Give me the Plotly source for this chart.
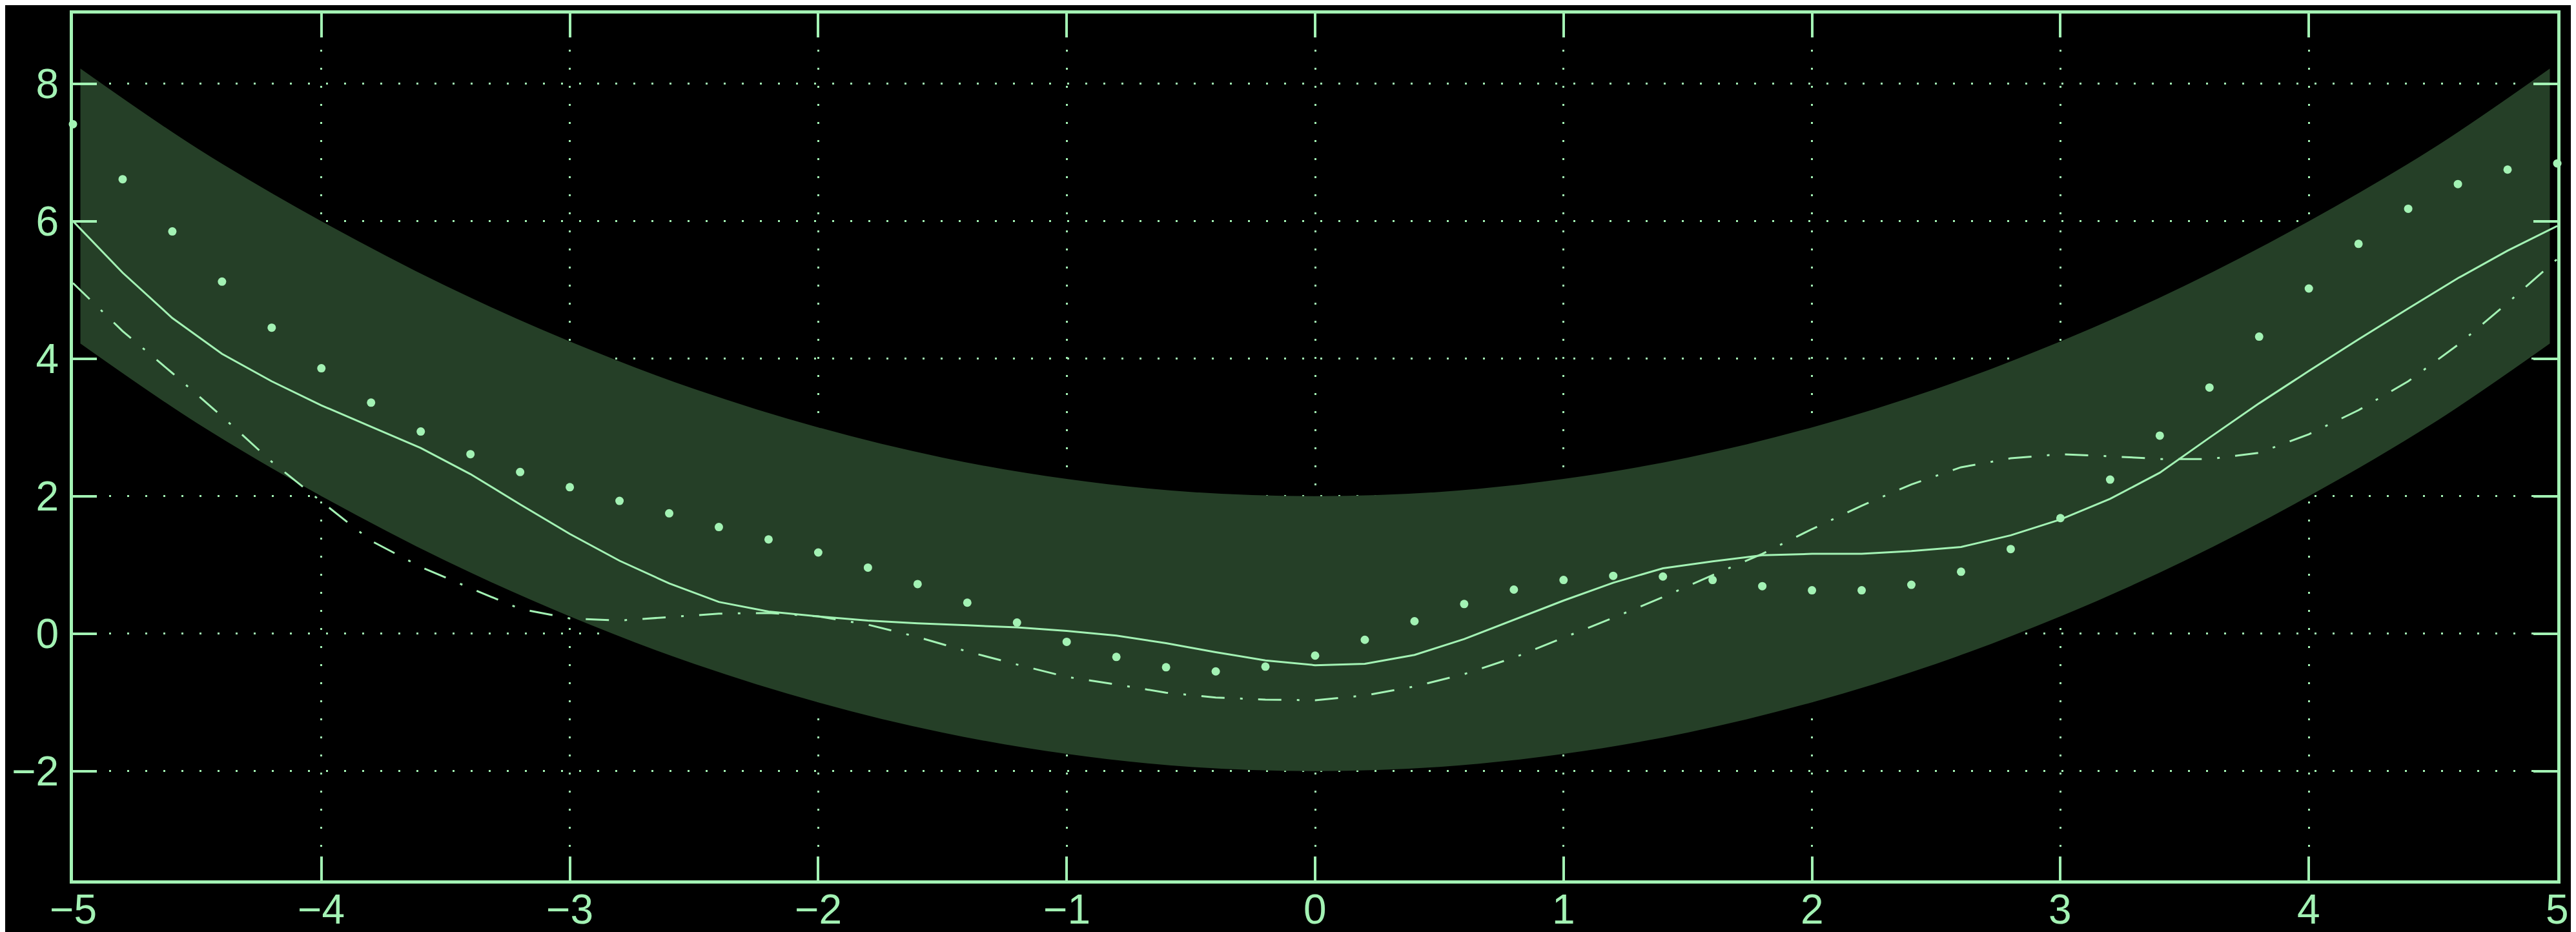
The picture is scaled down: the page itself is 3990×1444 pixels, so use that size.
import plotly.graph_objects as go

# ---- data ----
x_pts = [-5.0, -4.8, -4.6, -4.4, -4.2, -4.0, -3.8, -3.6, -3.4, -3.2, -3.0,
         -2.8, -2.6, -2.4, -2.2, -2.0, -1.8, -1.6, -1.4, -1.2, -1.0,
         -0.8, -0.6, -0.4, -0.2, 0.0, 0.2, 0.4, 0.6, 0.8, 1.0,
         1.2, 1.4, 1.6, 1.8, 2.0, 2.2, 2.4, 2.6, 2.8, 3.0,
         3.2, 3.4, 3.6, 3.8, 4.0, 4.2, 4.4, 4.6, 4.8, 5.0]

dots = [7.41, 6.61, 5.85, 5.12, 4.45, 3.86, 3.36, 2.94, 2.61, 2.35, 2.13,
        1.93, 1.75, 1.55, 1.37, 1.18, 0.96, 0.72, 0.45, 0.16, -0.12,
        -0.34, -0.49, -0.55, -0.48, -0.32, -0.09, 0.18, 0.43, 0.64, 0.78,
        0.84, 0.83, 0.78, 0.69, 0.63, 0.63, 0.71, 0.90, 1.23, 1.68,
        2.24, 2.88, 3.58, 4.32, 5.02, 5.67, 6.18, 6.54, 6.75, 6.84]

solid = [6.00, 5.25, 4.59, 4.07, 3.67, 3.32, 3.01, 2.70, 2.32, 1.88, 1.45,
         1.06, 0.73, 0.46, 0.32, 0.25, 0.19, 0.15, 0.12, 0.09, 0.04,
         -0.03, -0.14, -0.27, -0.39, -0.46, -0.44, -0.31, -0.08, 0.20, 0.48,
         0.74, 0.95, 1.05, 1.14, 1.16, 1.16, 1.20, 1.26, 1.43, 1.66,
         1.96, 2.34, 2.85, 3.35, 3.82, 4.28, 4.73, 5.17, 5.57, 5.93]

dashdot = [5.10, 4.40, 3.79, 3.16, 2.50, 1.92, 1.35, 0.97, 0.66, 0.36, 0.22,
           0.19, 0.24, 0.29, 0.30, 0.25, 0.13, -0.05, -0.26, -0.45, -0.63,
           -0.74, -0.86, -0.93, -0.96, -0.97, -0.90, -0.77, -0.59, -0.35, -0.06,
           0.23, 0.53, 0.85, 1.16, 1.52, 1.86, 2.17, 2.42, 2.55, 2.61,
           2.58, 2.54, 2.54, 2.63, 2.90, 3.25, 3.67, 4.20, 4.81, 5.45]

band_x = [-4.97, -4.5, -4.0, -3.5, -3.0, -2.5, -2.0, -1.5, -1.0, -0.5, 0.0,
          0.5, 1.0, 1.5, 2.0, 2.5, 3.0, 3.5, 4.0, 4.5, 4.97]
band_upper = [8.22, 7.06, 6.00, 5.06, 4.25, 3.56, 3.00, 2.56, 2.25, 2.06, 2.00,
              2.06, 2.25, 2.56, 3.00, 3.56, 4.25, 5.06, 6.00, 7.06, 8.22]
band_lower = [4.22, 3.06, 2.00, 1.06, 0.25, -0.44, -1.00, -1.44, -1.75, -1.94, -2.00,
              -1.94, -1.75, -1.44, -1.00, -0.44, 0.25, 1.06, 2.00, 3.06, 4.22]

x_ticks = [-5, -4, -3, -2, -1, 0, 1, 2, 3, 4, 5]
y_ticks = [-2, 0, 2, 4, 6, 8]

# ---- styling ----
FG = "#a3f2b4"
FILL = "#253f27"
FONT = dict(family="Liberation Sans, Arial, sans-serif", size=64, color=FG)
W, H = 3990, 1444

fig = go.Figure()

fig.add_trace(go.Scatter(x=band_x, y=band_lower, mode="lines",
                         line=dict(width=0, shape="spline", color=FILL),
                         hoverinfo="skip", showlegend=False))
fig.add_trace(go.Scatter(x=band_x, y=band_upper, mode="lines",
                         line=dict(width=0, shape="spline", color=FILL),
                         fill="tonexty", fillcolor=FILL,
                         hoverinfo="skip", showlegend=False))

fig.add_trace(go.Scatter(x=x_pts, y=solid, mode="lines",
                         line=dict(color=FG, width=3),
                         showlegend=False))
fig.add_trace(go.Scatter(x=x_pts, y=dashdot, mode="lines",
                         line=dict(color=FG, width=3, dash="36px,24px,4px,24px"),
                         showlegend=False))
fig.add_trace(go.Scatter(x=x_pts, y=dots, mode="markers",
                         marker=dict(color=FG, size=13, line=dict(width=0)),
                         cliponaxis=False, showlegend=False))

axis_common = dict(
    showline=True, linecolor=FG, linewidth=5, mirror="allticks",
    ticks="inside", ticklen=37, tickwidth=4, tickcolor=FG,
    showgrid=True, gridcolor=FG, gridwidth=3, griddash="3px,25px",
    zeroline=False, automargin=False, tickfont=FONT,
)

fig.update_xaxes(range=[-5, 5], tickvals=x_ticks, showticklabels=False, **axis_common)
fig.update_yaxes(range=[-3.59, 9.02], tickvals=y_ticks, ticklabelstandoff=4, **axis_common)

# x tick labels as text annotations (keeps them fully inside the page)
for v in x_ticks:
    fig.add_annotation(x=v, xref="x", y=0, yref="paper",
                       text=str(v).replace("-", "\u2212"), showarrow=False,
                       xanchor="center", yanchor="middle", yshift=-45,
                       borderpad=0, font=FONT)

fig.update_layout(
    width=W, height=H,
    paper_bgcolor="black", plot_bgcolor="black",
    margin=dict(l=105, r=37, t=13, b=88),
    showlegend=False,
)

fig.write_html("out.html")
